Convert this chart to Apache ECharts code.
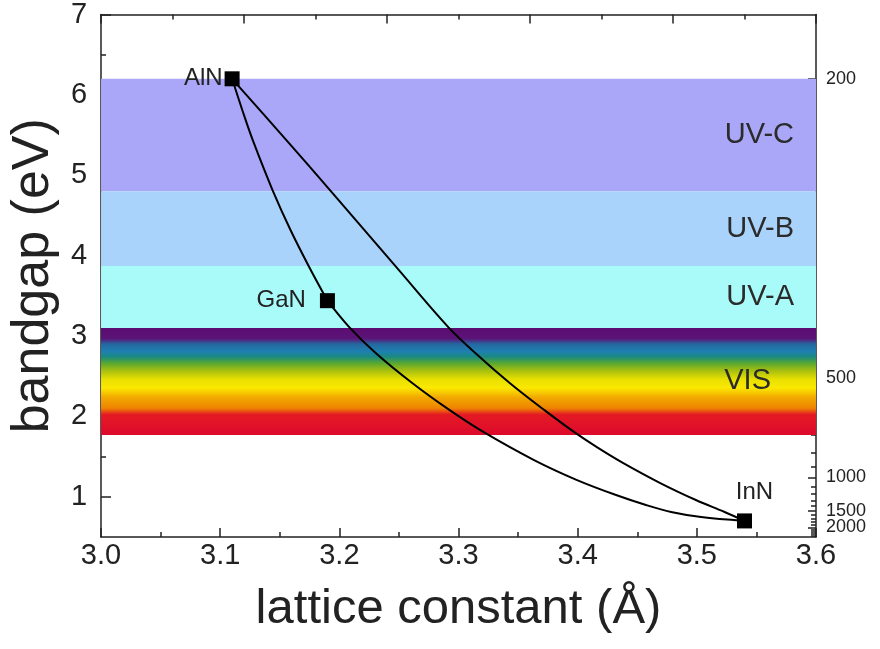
<!DOCTYPE html>
<html>
<head>
<meta charset="utf-8">
<script src="https://cdn.jsdelivr.net/npm/echarts/dist/echarts.min.js"></script>
<style>
  html, body { margin: 0; padding: 0; background: #ffffff; }
  #chart { width: 880px; height: 649px; }
</style>
</head>
<body>
<div id="chart"></div>
<script>
// Spectral regions (photon energy, eV)
const bandNames  = ['UV-C', 'UV-B', 'UV-A', 'VIS'];
const bandTop    = [6.2, 4.8, 3.87, 3.1];
const bandBottom = [4.8, 3.87, 3.1, 1.77];

// Binary nitrides: lattice constant (Å) and bandgap (eV)
const compounds  = ['AlN', 'GaN', 'InN'];
const latticeA   = [3.11, 3.19, 3.54];
const bandgapE   = [6.2, 3.44, 0.7];

// Ternary alloy curves (lattice constant, bandgap)
const alganA = [3.11, 3.1188, 3.1275, 3.1441, 3.1593, 3.175, 3.19];
const alganE = [6.2, 5.80, 5.43, 4.81, 4.31, 3.85, 3.44];

const inganA = [3.19, 3.2077, 3.2307, 3.2614, 3.2926, 3.3212, 3.3634, 3.3995,
                3.4322, 3.4573, 3.4784, 3.5036, 3.54];
const inganE = [3.44, 3.121, 2.786, 2.413, 2.078, 1.804, 1.457, 1.208,
                1.022, 0.898, 0.811, 0.748, 0.7];

const alinnA = [3.11, 3.1559, 3.1923, 3.248, 3.2908, 3.3143, 3.3432, 3.3721,
                3.3972, 3.4161, 3.4383, 3.4693, 3.4992, 3.5233, 3.54];
const alinnE = [6.2, 5.432, 4.811, 3.854, 3.121, 2.786, 2.413, 2.078,
                1.804, 1.618, 1.419, 1.171, 0.960, 0.811, 0.7];

// Axis ticks
const eMajor   = [1, 2, 3, 4, 5, 6, 7];
const eMinor   = [1.5, 2.5, 3.5, 4.5, 5.5, 6.5];
const wlMajor  = [200, 500, 1000, 1500, 2000];
const wlLabels = [200, 500, 1000, 1500];
const wlLast   = [2000];
const wlMinor  = [300, 400, 600, 700, 800, 900, 1100, 1200, 1300, 1400,
                  1600, 1700, 1800, 1900, 2100, 2200, 2300, 2400];

const HC = 1240; // eV·nm
const toE = nm => HC / nm;
const pairs = (xs, ys) => xs.map((x, i) => [x, ys[i]]);

const FONT = '"Liberation Sans", Arial, Helvetica, sans-serif';
const INK = '#222';
const axisLineStyle = { color: INK, width: 1.5 };

const bandColors = [
  '#aaa7f8',
  '#a9d3fb',
  '#a8fbf9',
  {
    type: 'linear', x: 0, y: 0, x2: 0, y2: 1,
    colorStops: [
      { offset: 0.00, color: '#5b0c70' },
      { offset: 0.10, color: '#5b1478' },
      { offset: 0.15, color: '#2468a0' },
      { offset: 0.22, color: '#1e80b0' },
      { offset: 0.27, color: '#1a8a80' },
      { offset: 0.33, color: '#5aa830' },
      { offset: 0.40, color: '#a8c010' },
      { offset: 0.48, color: '#e8e000' },
      { offset: 0.56, color: '#fbe800' },
      { offset: 0.65, color: '#f2a800' },
      { offset: 0.75, color: '#ee8400' },
      { offset: 0.81, color: '#e41a24' },
      { offset: 1.00, color: '#dc0a2c' }
    ]
  }
];
const bandLabelDist = [22, 22, 22, 45];

const bandAreas = bandNames.map((name, i) => [
  {
    name: name,
    yAxis: bandTop[i],
    itemStyle: { color: bandColors[i], opacity: 1 },
    label: {
      show: true, position: 'insideRight', distance: bandLabelDist[i],
      formatter: '{b}', fontSize: 29, color: '#2b2b2b', fontFamily: FONT
    }
  },
  { yAxis: bandBottom[i] }
]);

const curveStyle = { color: '#000', width: 2 };
const labelPos = ['left', 'left', 'top'];
const labelDist = [2, 14, 9];
const labelOffset = [[0, 0], [0, 0], [10, 0]];

const chart = echarts.init(document.getElementById('chart'), null, { renderer: 'canvas' });

const curve = (name, xs, ys) => ({
  name: name, type: 'line', z: 3, smooth: 0.35,
  showSymbol: false, lineStyle: curveStyle, data: pairs(xs, ys)
});

const wlLabel = {
  fontSize: 18, color: INK, margin: 10, fontFamily: FONT,
  showMinLabel: true, showMaxLabel: true,
  formatter: v => String(Math.round(HC / v))
};

chart.setOption({
  animation: false,
  backgroundColor: '#ffffff',
  grid: { left: 100, right: 64, top: 13, bottom: 112 },
  xAxis: [
    {
      type: 'value', position: 'bottom', min: 3.0, max: 3.6, interval: 0.1,
      axisLine: { lineStyle: axisLineStyle },
      axisTick: { inside: true, length: 9, lineStyle: axisLineStyle },
      minorTick: { show: true, splitNumber: 2, length: 5, lineStyle: axisLineStyle },
      splitLine: { show: false },
      axisLabel: {
        fontSize: 29, color: INK, margin: 4, fontFamily: FONT,
        formatter: v => v.toFixed(1)
      },
      name: 'lattice constant (Å)', nameLocation: 'middle', nameGap: 48,
      nameTextStyle: { fontSize: 49, color: INK, fontFamily: FONT }
    },
    {
      type: 'value', position: 'top', min: 0, max: 5, interval: 1,
      axisLine: { lineStyle: axisLineStyle },
      axisTick: { inside: true, length: 9, lineStyle: axisLineStyle },
      minorTick: { show: true, splitNumber: 2, length: 5, lineStyle: axisLineStyle },
      splitLine: { show: false },
      axisLabel: { show: false }
    }
  ],
  yAxis: [
    {
      type: 'value', position: 'left', min: 0.5, max: 7,
      axisLine: { lineStyle: axisLineStyle },
      axisTick: { inside: true, length: 10, lineStyle: axisLineStyle, customValues: eMajor },
      splitLine: { show: false },
      axisLabel: {
        fontSize: 29, color: INK, margin: 14, fontFamily: FONT,
        customValues: eMajor, showMinLabel: true, showMaxLabel: true
      },
      name: 'bandgap (eV)', nameLocation: 'middle', nameGap: 41,
      nameTextStyle: { fontSize: 52, color: INK, fontFamily: FONT }
    },
    {
      type: 'value', position: 'left', min: 0.5, max: 7,
      axisLine: { show: false },
      axisTick: { inside: true, length: 5, lineStyle: axisLineStyle, customValues: eMinor },
      splitLine: { show: false },
      axisLabel: { show: false }
    },
    {
      type: 'value', position: 'right', min: 0.5, max: 7,
      axisLine: { lineStyle: axisLineStyle },
      axisTick: { inside: true, length: 8, lineStyle: axisLineStyle, customValues: wlMajor.map(toE) },
      splitLine: { show: false },
      axisLabel: Object.assign({ customValues: wlLabels.map(toE) }, wlLabel)
    },
    {
      type: 'value', position: 'right', min: 0.5, max: 7,
      axisLine: { show: false },
      axisTick: { inside: true, length: 5, lineStyle: axisLineStyle, customValues: wlMinor.map(toE) },
      splitLine: { show: false },
      axisLabel: Object.assign({ customValues: wlLast.map(toE) }, wlLabel)
    }
  ],
  series: [
    {
      name: 'regions', type: 'line', data: [], z: 1, silent: true,
      markArea: { silent: true, data: bandAreas }
    },
    curve('AlGaN', alganA, alganE),
    curve('InGaN', inganA, inganE),
    curve('AlInN', alinnA, alinnE),
    {
      name: 'binaries', type: 'scatter', z: 4, symbol: 'rect', symbolSize: 15,
      itemStyle: { color: '#000', opacity: 1 },
      data: compounds.map((c, i) => ({
        name: c, value: [latticeA[i], bandgapE[i]],
        label: {
          show: true, position: labelPos[i], distance: labelDist[i],
          offset: labelOffset[i],
          formatter: '{b}', fontSize: 24, color: INK, fontFamily: FONT
        }
      }))
    }
  ]
});
</script>
</body>
</html>
